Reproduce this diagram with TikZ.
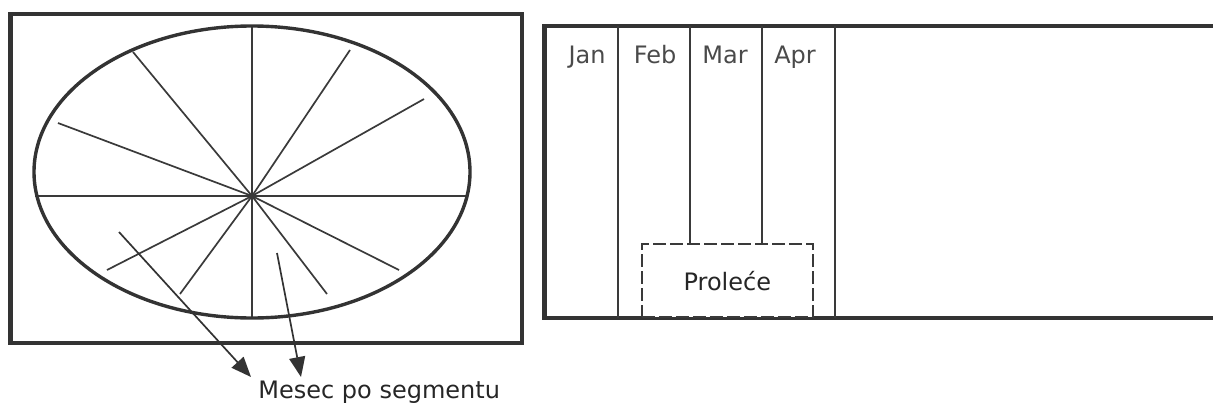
\documentclass[tikz,border=0pt]{standalone}
\usepackage{fontspec}
\setmainfont{DejaVu Sans}
\usetikzlibrary{positioning,arrows.meta}
\definecolor{framegray}{HTML}{333333}
\definecolor{linegray}{HTML}{3A3A3A}
\definecolor{labelgray}{HTML}{4A4A4A}
\tikzset{
thickframe/.style={draw=framegray,line width=2.4pt},
thinline/.style={draw=linegray,line width=0.85pt},
wheelrim/.style={draw=framegray,line width=1.7pt},
monthlabel/.style={
  anchor=base,
  inner sep=0pt,
  text=labelgray,
  font=\fontsize{12}{14}\selectfont
  },
seasonbox/.style={
  draw=linegray,
  fill=white,
  line width=0.85pt,
  dash pattern=on 6.5pt off 2pt,
  minimum width=85.5pt,
  minimum height=36.5pt,
  font=\fontsize{12}{14}\selectfont
  },
pointer/.style={
  draw=framegray,
  line width=0.85pt,
  -{Triangle[length=10pt,width=8pt]}
  }
}

\begin{document}
\begin{tikzpicture}[x=0.5pt,y=-0.5pt]
\useasboundingbox (0,0) rectangle (1213,407);

% wheel of months
\draw[thickframe] (10.5,14) rectangle (522,343);
\coordinate (hub) at (252,196);
\foreach \ex/\ey in {252/25,133/52,58/123,350/50,424/99,399/270,327/294,252/317,180/294,107/270}
  \draw[thinline] (hub) -- (\ex,\ey);
\draw[thinline] (35,196) -- (467,196);
\draw[wheelrim] (252,172) ellipse [x radius=109pt,y radius=73pt];

\node[anchor=base west,inner sep=0pt,text=black!85,font=\fontsize{12}{14}\selectfont]
  (seglabel) at (258,398) {Mesec po segmentu};
\coordinate (segA) at (119,232);
\coordinate (segB) at (277,253);
\coordinate (tipA) at (251,377);
\coordinate (tipB) at (301,377);
\draw[pointer] (segA) -- (tipA);
\draw[pointer] (segB) -- (tipB);

% strip of months
\draw[thickframe] (1220,26) -- (544.5,26) -- (544.5,318) -- (1220,318);
\draw[thinline] (618,26) -- (618,318);
\draw[thinline] (835,26) -- (835,318);
\foreach \m/\x in {Jan/587,Feb/655,Mar/725,Apr/795}
  \node[monthlabel] (m\m) at (\x,63) {\m};

\node[seasonbox,anchor=south west,text=black!85] (spring) at (641,318) {Proleće};
\draw[thinline] (690,26) -- (690,26 |- spring.north);
\draw[thinline] (762,26) -- (762,26 |- spring.north);
\end{tikzpicture}
\end{document}
